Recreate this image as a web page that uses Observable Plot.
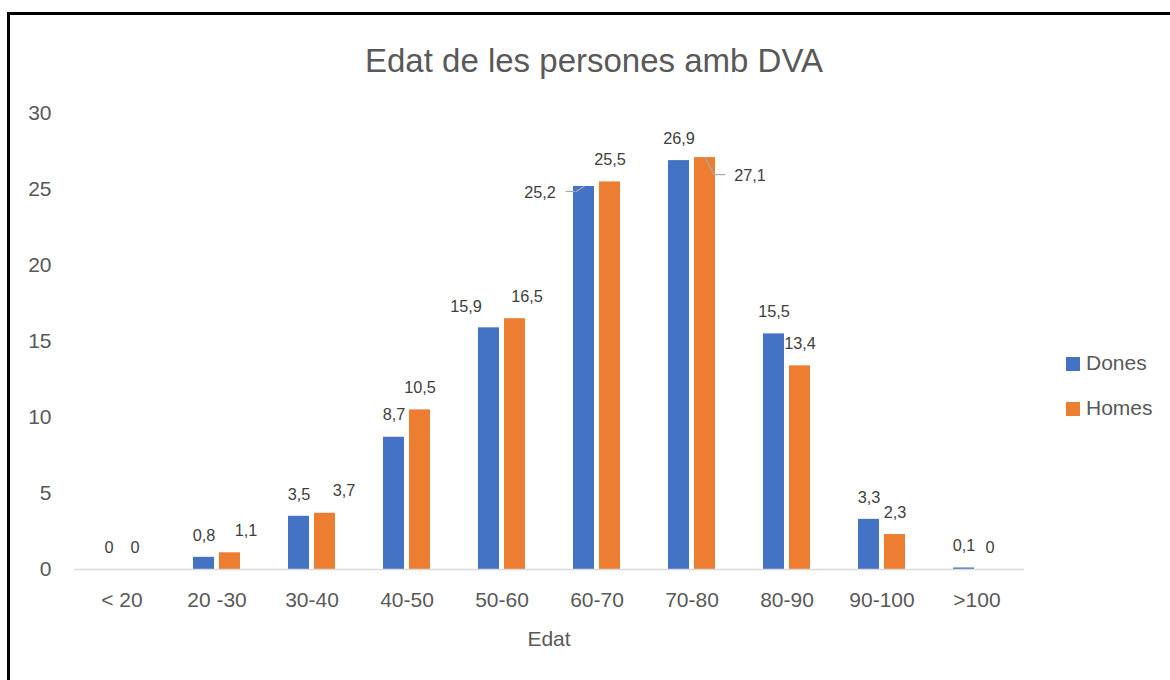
<!DOCTYPE html>
<html>
<head>
<meta charset="utf-8">
<script src="https://cdn.jsdelivr.net/npm/d3@7"></script>
<script src="https://cdn.jsdelivr.net/npm/@observablehq/plot@0.6"></script>
<style>
  html, body { margin: 0; padding: 0; background: #fff; overflow: hidden; }
  body { width: 1170px; height: 680px; position: relative; font-family: "Liberation Sans", Arial, sans-serif; }
  #frame { position: absolute; left: 7px; top: 12px; width: 1300px; height: 800px; border: 3px solid #000; box-sizing: border-box; }
  #chart { position: absolute; left: 0; top: 0; }
  #title { position: absolute; left: 0; width: 1188px; top: 44px; text-align: center; font-size: 33px; line-height: 33px; color: #595959; }
  #xlabel { position: absolute; left: 449px; width: 200px; top: 628px; text-align: center; font-size: 21px; line-height: 21px; color: #595959; }
  #legend { position: absolute; left: 1066px; top: 0; color: #595959; font-size: 21px; }
  .item { position: absolute; left: 0; white-space: nowrap; height: 24px; line-height: 24px; }
  .sw { display: inline-block; width: 14px; height: 14px; margin-right: 6px; vertical-align: -1px; }
</style>
</head>
<body>
<div id="frame"></div>
<div id="chart"></div>
<div id="title">Edat de les persones amb DVA</div>
<div id="xlabel">Edat</div>
<div id="legend"></div>
<script>
// ---- Data ----
const categories = ["< 20", "20 -30", "30-40", "40-50", "50-60", "60-70", "70-80", "80-90", "90-100", ">100"];
const series = ["Dones", "Homes"];
const dones = [0, 0.8, 3.5, 8.7, 15.9, 25.2, 26.9, 15.5, 3.3, 0.1];
const homes = [0, 1.1, 3.7, 10.5, 16.5, 25.5, 27.1, 13.4, 2.3, 0];
const yTicks = [0, 5, 10, 15, 20, 25, 30];
const colors = ["#4472C4", "#ED7D31"];

// table for Plot
const rows = categories.flatMap((cat, i) => [
  {cat, serie: "Dones", value: dones[i]},
  {cat, serie: "Homes", value: homes[i]}
]);

const fmt = v => String(v).replace(".", ",");

// label placement tweaks (serie, category, dx, dy) as in the original chart
const labelPlacement = [
  ["Homes", "20 -30", 16, -22],
  ["Homes", "30-40", 19, -22],
  ["Dones", "50-60", -23, -21],
  ["Homes", "50-60", 12, -22],
  ["Dones", "60-70", -44, 6.5],
  ["Homes", "70-80", 45, 18]
];
const isPlaced = d => labelPlacement.some(p => p[0] === d.serie && p[1] === d.cat);
const pick = (s, c) => rows.filter(d => d.serie === s && d.cat === c);

const lineShape = {draw(context, l) { context.moveTo(0, 0); context.lineTo(0, -l); }};
const leader = "#a6a6a6";

const textOpts = {fx: "cat", x: "serie", y: "value", text: d => fmt(d.value), fill: "#404040", fontSize: 16.3, lineAnchor: "middle"};

const plot = Plot.plot({
  width: 1170,
  height: 680,
  marginLeft: 73,
  marginRight: 145,
  marginTop: 113,
  marginBottom: 111,
  style: {fontFamily: "'Liberation Sans', Arial, sans-serif", fontSize: "21px", color: "#595959", background: "transparent"},
  fx: {domain: categories, padding: 0, label: null, axis: "bottom", tickSize: 0, tickPadding: 23},
  x: {domain: series, paddingInner: 0.21, paddingOuter: 0.87, axis: null},
  y: {domain: [0, 30], ticks: yTicks, tickSize: 0, tickPadding: 23, label: null},
  color: {domain: series, range: colors},
  marks: [
    Plot.barY(rows, {fx: "cat", x: "serie", y: "value", fill: "serie"}),
    Plot.ruleY([0], {stroke: "#d9d9d9", strokeWidth: 1.6}),
    Plot.text(rows.filter(d => !isPlaced(d)), {...textOpts, dy: -22}),
    ...labelPlacement.map(([s, c, dx, dy]) => Plot.text(pick(s, c), {...textOpts, dx, dy})),
    // leader lines
    Plot.tickY(pick("Dones", "60-70"), {fx: "cat", x: "serie", y: "value", dy: 5, insetLeft: -7.3, insetRight: 18.8, stroke: leader, strokeWidth: 1.2}),
    Plot.vector(pick("Dones", "60-70"), {fx: "cat", x: "serie", y: "value", length: 9.3, rotate: 237, anchor: "start", shape: lineShape, stroke: leader, strokeWidth: 1.2}),
    Plot.vector(pick("Homes", "70-80"), {fx: "cat", x: "serie", y: "value", length: 19, rotate: 152, anchor: "start", shape: lineShape, stroke: leader, strokeWidth: 1.2}),
    Plot.tickY(pick("Homes", "70-80"), {fx: "cat", x: "serie", y: "value", dy: 17, insetLeft: 19.5, insetRight: -10.2, stroke: leader, strokeWidth: 1.2})
  ]
});
document.getElementById("chart").appendChild(plot);

// legend from the plot's color scale
const colorScale = plot.scale("color");
const legend = document.getElementById("legend");
series.forEach((s, i) => {
  const item = document.createElement("div");
  item.className = "item";
  item.style.top = (351 + i * 45) + "px";
  const sw = document.createElement("span");
  sw.className = "sw";
  sw.style.background = colorScale.apply(s);
  item.appendChild(sw);
  item.appendChild(document.createTextNode(s));
  legend.appendChild(item);
});
</script>
</body>
</html>
